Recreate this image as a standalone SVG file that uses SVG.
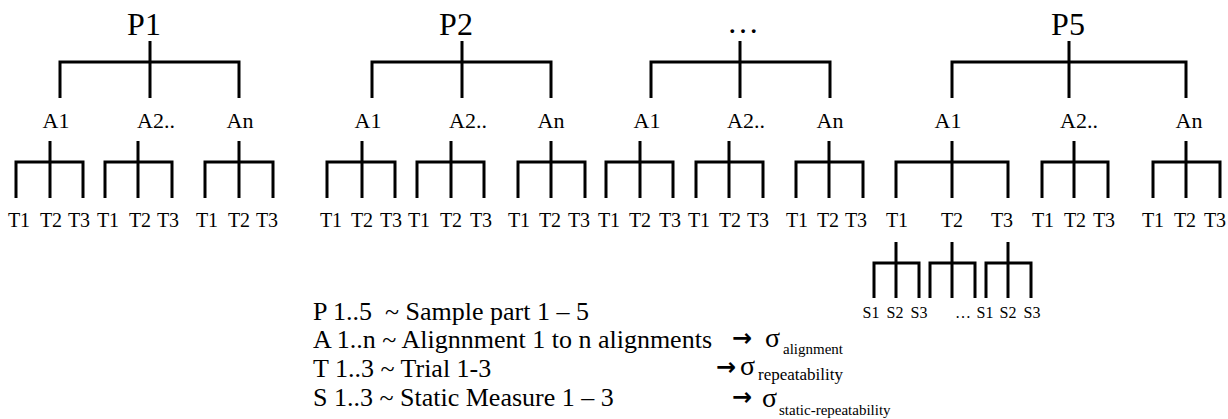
<svg xmlns="http://www.w3.org/2000/svg" width="1228" height="419" viewBox="0 0 1228 419">
<style>
text{font-family:"Liberation Serif","Times New Roman",serif;fill:#000;}
.p{font-size:32px;text-anchor:middle;}
.a{font-size:22px;text-anchor:middle;}
.t{font-size:20px;text-anchor:middle;}
.s{font-size:16px;text-anchor:middle;}
.lg{font-size:26px;white-space:pre;}
.arr{font-family:"DejaVu Sans",sans-serif;font-size:24px;font-weight:bold;}
.sig{font-size:28px;}
.sub{font-size:15px;}
.br{fill:none;stroke:#000;stroke-width:3;stroke-linejoin:miter;stroke-linecap:butt;}
</style>
<rect width="1228" height="419" fill="#fff"/>
<g id="connectors" class="br">
<path d="M60,98V62H239V98M150,41V98"/>
<path d="M372,98V62H551V98M462,41V98"/>
<path d="M651,98V62H830V98M740,41V98"/>
<path d="M952,98V62H1186V98M1069,41V98"/>
<path d="M16,198V162H83V198M50,141V198"/>
<path d="M105,198V162H172V198M138,141V198"/>
<path d="M205,198V162H273V198M239,141V198"/>
<path d="M327,198V162H395V198M362,141V198"/>
<path d="M417,198V162H484V198M451,141V198"/>
<path d="M518,198V162H585V198M551,141V198"/>
<path d="M606,198V162H673V198M640,141V198"/>
<path d="M696,198V162H763V198M729,141V198"/>
<path d="M796,198V162H863V198M829,141V198"/>
<path d="M896,198V162H1008V198M952,141V198"/>
<path d="M1042,198V162H1108V198M1074,141V198"/>
<path d="M1153,198V162H1220V198M1186,141V198"/>
<path d="M874,298V263H919V298M896,242V298"/>
<path d="M930,298V263H975V298M952,242V298"/>
<path d="M986,298V263H1031V298M1008,242V298"/>
</g>
<g id="P1"><text class="p" x="144" y="35">P1</text></g>
<g id="P2"><text class="p" x="456" y="35">P2</text></g>
<g id="Pdots"><text class="p" x="743" y="33">…</text></g>
<g id="P5"><text class="p" x="1068" y="35">P5</text></g>
<g id="P1-A"><text class="a" x="56" y="128">A1</text><text class="a" x="156" y="128">A2..</text><text class="a" x="240" y="128">An</text></g>
<g id="P2-A"><text class="a" x="368" y="128">A1</text><text class="a" x="468" y="128">A2..</text><text class="a" x="551" y="128">An</text></g>
<g id="Pdots-A"><text class="a" x="647" y="128">A1</text><text class="a" x="746" y="128">A2..</text><text class="a" x="830" y="128">An</text></g>
<g id="P5-A"><text class="a" x="948" y="128">A1</text><text class="a" x="1079" y="128">A2..</text><text class="a" x="1189" y="128">An</text></g>
<g id="P1-T">
<text class="t" x="19" y="227">T1</text><text class="t" x="51" y="227">T2</text><text class="t" x="79" y="227">T3</text>
<text class="t" x="108" y="227">T1</text><text class="t" x="140" y="227">T2</text><text class="t" x="168" y="227">T3</text>
<text class="t" x="207" y="227">T1</text><text class="t" x="239" y="227">T2</text><text class="t" x="267" y="227">T3</text>
</g>
<g id="P2-T">
<text class="t" x="331" y="227">T1</text><text class="t" x="362" y="227">T2</text><text class="t" x="391" y="227">T3</text>
<text class="t" x="419" y="227">T1</text><text class="t" x="451" y="227">T2</text><text class="t" x="481" y="227">T3</text>
<text class="t" x="519" y="227">T1</text><text class="t" x="550" y="227">T2</text><text class="t" x="579" y="227">T3</text>
</g>
<g id="Pdots-T">
<text class="t" x="609" y="227">T1</text><text class="t" x="640" y="227">T2</text><text class="t" x="670" y="227">T3</text>
<text class="t" x="699" y="227">T1</text><text class="t" x="730" y="227">T2</text><text class="t" x="758" y="227">T3</text>
<text class="t" x="797" y="227">T1</text><text class="t" x="828" y="227">T2</text><text class="t" x="856" y="227">T3</text>
</g>
<g id="P5-T">
<text class="t" x="897" y="227">T1</text><text class="t" x="952" y="227">T2</text><text class="t" x="1002" y="227">T3</text>
<text class="t" x="1043" y="227">T1</text><text class="t" x="1075" y="227">T2</text><text class="t" x="1104" y="227">T3</text>
<text class="t" x="1153" y="227">T1</text><text class="t" x="1185" y="227">T2</text><text class="t" x="1215" y="227">T3</text>
</g>
<g id="S">
<text class="s" x="871" y="318">S1</text><text class="s" x="895" y="318">S2</text><text class="s" x="919" y="318">S3</text>
<text class="s" x="963" y="318">…</text>
<text class="s" x="985" y="318">S1</text><text class="s" x="1008" y="318">S2</text><text class="s" x="1032" y="318">S3</text>
</g>
<g id="legend">
<text class="lg" x="313" y="320">P 1..5  ~ Sample part 1 – 5</text>
<text class="lg" x="313" y="348">A 1..n ~ Alignnment 1 to n alignments</text>
<text class="arr" x="732" y="346">→</text>
<text class="sig" x="765" y="347">σ</text><text class="sub" x="783" y="354">alignment</text>
<text class="lg" x="313" y="377">T 1..3 ~ Trial 1-3</text>
<text class="arr" x="716" y="375">→</text>
<text class="sig" x="740" y="375">σ</text><text class="sub" x="758" y="380" style="font-size:17px">repeatability</text>
<text class="lg" x="313" y="406">S 1..3 ~ Static Measure 1 – 3</text>
<text class="arr" x="732" y="405">→</text>
<text class="sig" x="762" y="407">σ</text><text class="sub" x="779" y="415">static-repeatability</text>
</g>
</svg>
